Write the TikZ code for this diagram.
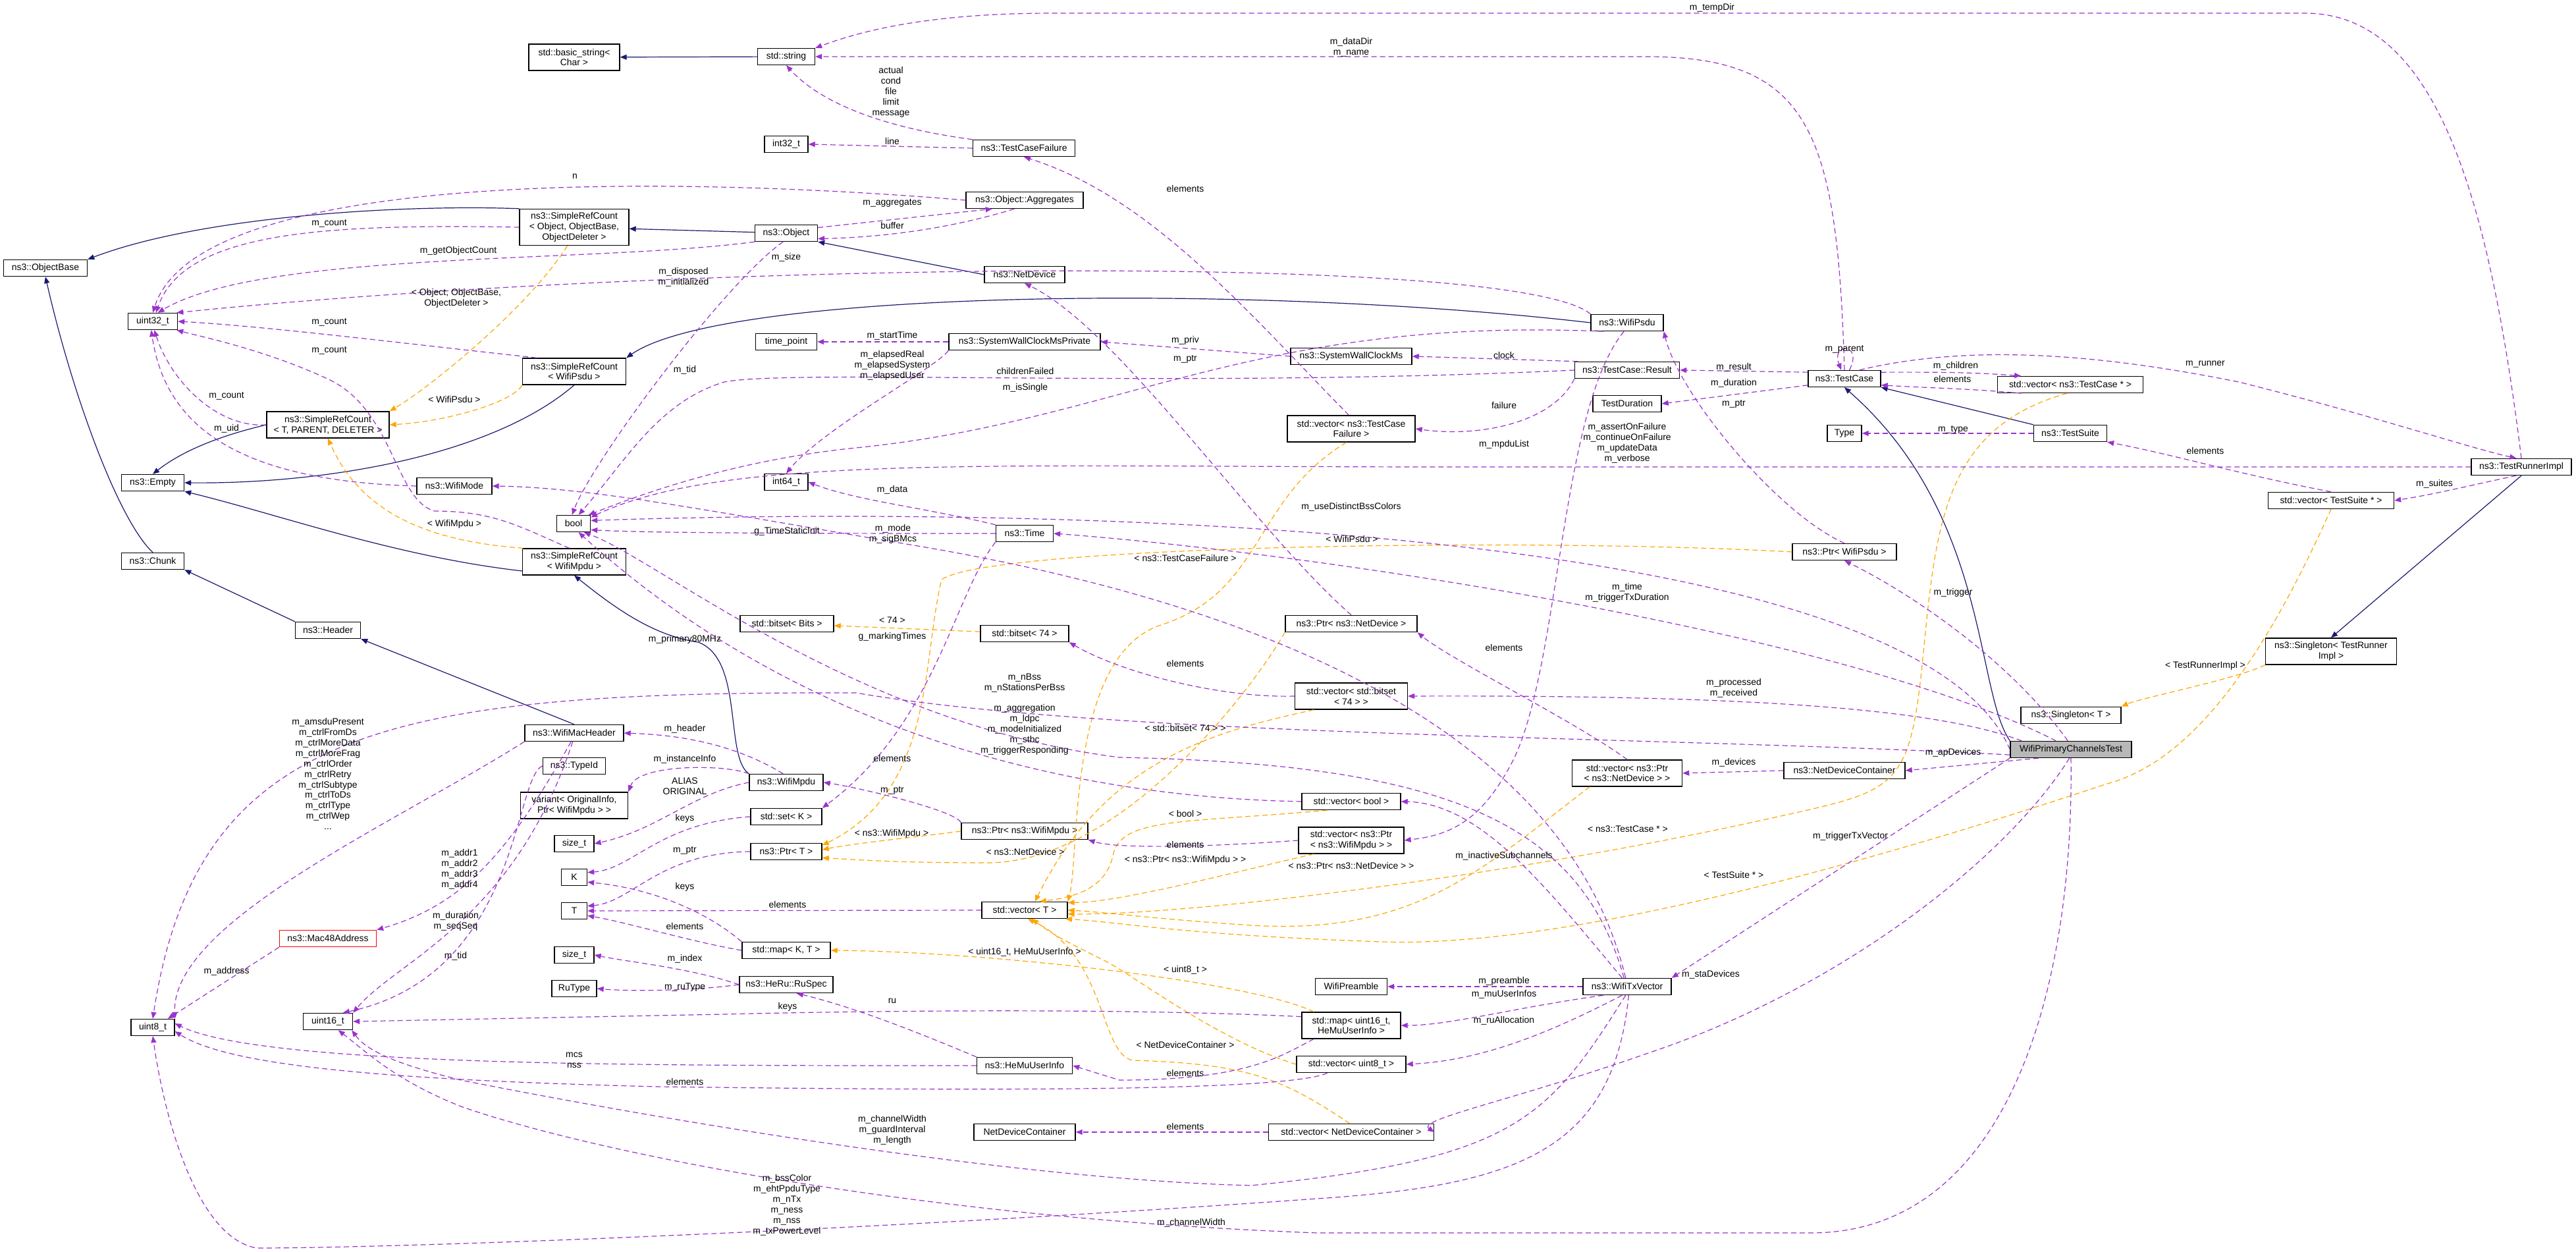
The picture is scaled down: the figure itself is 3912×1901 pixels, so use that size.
\documentclass[tikz,border=0pt]{standalone}
\usepackage{fontspec}
\setmainfont{Liberation Sans}
\usetikzlibrary{arrows.meta}
\definecolor{pu}{HTML}{9A32CD}
\definecolor{orr}{HTML}{FFA500}
\definecolor{nv}{HTML}{191970}
\tikzset{
 box/.style={draw=black,line width=0.7bp,fill=white,inner sep=1bp,minimum height=12.5bp,align=center,font=\fontsize{7}{8}\selectfont},
 lab/.style={inner sep=0,align=center,font=\fontsize{7}{8}\selectfont},
 tip/.style={-{Triangle[length=5bp,width=4bp]}},
 pe/.style={tip,draw=pu,line width=0.6bp,dash pattern=on 4bp off 2.5bp},
 oe/.style={tip,draw=orr,line width=0.6bp,dash pattern=on 4bp off 2.5bp},
 ne/.style={tip,draw=nv,line width=0.6bp},
}
\begin{document}
\begin{tikzpicture}[x=0.5bp,y=-0.5bp]
\useasboundingbox (0,0) rectangle (3912,1901);
% nodes
\node[box,minimum width=69bp,minimum height=20bp] (basic) at (872,87) {std::basic\_string\textless\\Char \textgreater};
\node[box,minimum width=43.5bp] (str) at (1194,86) {std::string};
\node[box,minimum width=33bp] (i32) at (1194,219) {int32\_t};
\node[box,minimum width=63.5bp] (objbase) at (69,407) {ns3::ObjectBase};
\node[box,minimum width=83bp,minimum height=27.5bp] (srcobj) at (872,345) {ns3::SimpleRefCount\\\textless{} Object, ObjectBase,\\ObjectDeleter \textgreater};
\node[box,minimum width=47.5bp] (obj) at (1194,354) {ns3::Object};
\node[box,minimum width=37.5bp] (u32) at (232,488) {uint32\_t};
\node[box,minimum width=46.5bp] (tp) at (1194,519) {time\_point};
\node[box,minimum width=78.5bp,minimum height=20bp] (srcpsdu) at (872,564) {ns3::SimpleRefCount\\\textless{} WifiPsdu \textgreater};
\node[box,minimum width=93bp,minimum height=20bp] (srctpd) at (498,645) {ns3::SimpleRefCount\\\textless{} T, PARENT, DELETER \textgreater};
\node[box,minimum width=47.5bp] (empty) at (232,733) {ns3::Empty};
\node[box,minimum width=57bp] (wmode) at (690,738) {ns3::WifiMode};
\node[box,minimum width=33bp] (i64) at (1194,732) {int64\_t};
\node[box,minimum width=25.5bp] (bool) at (871,795) {bool};
\node[box,minimum width=47.5bp] (chunk) at (232,852) {ns3::Chunk};
\node[box,minimum width=78.5bp,minimum height=20bp] (srcmpdu) at (872,853) {ns3::SimpleRefCount\\\textless{} WifiMpdu \textgreater};
\node[box,minimum width=71bp] (bitsetbits) at (1195,947) {std::bitset\textless{} Bits \textgreater};
\node[box,minimum width=49.5bp] (header) at (498,957) {ns3::Header};
\node[box,minimum width=75bp] (wmh) at (872,1113) {ns3::WifiMacHeader};
\node[box,minimum width=47.5bp] (typeid) at (872,1163) {ns3::TypeId};
\node[box,minimum width=81.5bp,minimum height=20bp] (variant) at (872,1223) {variant\textless{} OriginalInfo,\\Ptr\textless{} WifiMpdu \textgreater{} \textgreater};
\node[box,minimum width=30bp] (sizet) at (872,1281) {size\_t};
\node[box,minimum width=19.5bp] (K) at (872,1332) {K};
\node[box,minimum width=19.5bp] (T) at (872,1383) {T};
\node[box,minimum width=30bp] (sizet2) at (872,1450) {size\_t};
\node[box,minimum width=34bp] (rutype) at (872,1501) {RuType};
\node[box,minimum width=56bp] (wmpdu) at (1194,1188) {ns3::WifiMpdu};
\node[box,minimum width=54bp] (setk) at (1194,1240) {std::set\textless{} K \textgreater};
\node[box,minimum width=54bp] (ptrt) at (1194,1293) {ns3::Ptr\textless{} T \textgreater};
\node[box,minimum width=67bp] (mapkt) at (1194,1443) {std::map\textless{} K, T \textgreater};
\node[box,minimum width=71bp] (ruspec) at (1194,1495) {ns3::HeRu::RuSpec};
\node[box,draw=red,minimum width=73.5bp] (mac48) at (498,1425) {ns3::Mac48Address};
\node[box,minimum width=37.5bp] (u16) at (498,1551) {uint16\_t};
\node[box,minimum width=33bp] (u8) at (232,1560) {uint8\_t};
\node[box,minimum width=77.5bp] (tcf) at (1555,225) {ns3::TestCaseFailure};
\node[box,minimum width=89bp] (aggr) at (1556,304) {ns3::Object::Aggregates};
\node[box,minimum width=61bp] (netdev) at (1556,417) {ns3::NetDevice};
\node[box,minimum width=115bp] (swcmp) at (1556,519) {ns3::SystemWallClockMsPrivate};
\node[box,minimum width=92bp] (swcm) at (2052,541) {ns3::SystemWallClockMs};
\node[box,minimum width=55bp] (wpsdu) at (2471,490) {ns3::WifiPsdu};
\node[box,minimum width=79.5bp] (tcres) at (2471,562) {ns3::TestCase::Result};
\node[box,minimum width=52bp] (tdur) at (2471,613) {TestDuration};
\node[box,minimum width=97bp,minimum height=20bp] (vtcf) at (2052,651) {std::vector\textless{} ns3::TestCase\\Failure \textgreater};
\node[box,minimum width=43.5bp] (time) at (1556,810) {ns3::Time};
\node[box,minimum width=100bp] (ptrnd) at (2052,947) {ns3::Ptr\textless{} ns3::NetDevice \textgreater};
\node[box,minimum width=67bp] (bitset74) at (1556,962) {std::bitset\textless{} 74 \textgreater};
\node[box,minimum width=85.5bp,minimum height=20bp] (vbitset) at (2052,1057) {std::vector\textless{} std::bitset\\\textless{} 74 \textgreater{} \textgreater};
\node[box,minimum width=83.5bp,minimum height=20bp] (vptrnd) at (2471,1174) {std::vector\textless{} ns3::Ptr\\\textless{} ns3::NetDevice \textgreater{} \textgreater};
\node[box,minimum width=75bp] (vbool) at (2052,1217) {std::vector\textless{} bool \textgreater};
\node[box,minimum width=96bp] (ptrmpdu) at (1556,1262) {ns3::Ptr\textless{} ns3::WifiMpdu \textgreater};
\node[box,minimum width=80bp,minimum height=20bp] (vptrmpdu) at (2052,1276) {std::vector\textless{} ns3::Ptr\\\textless{} ns3::WifiMpdu \textgreater{} \textgreater};
\node[box,minimum width=65bp] (vt) at (1556,1382) {std::vector\textless{} T \textgreater};
\node[box,minimum width=54.5bp] (preamble) at (2052,1498) {WifiPreamble};
\node[box,minimum width=67bp] (txv) at (2471,1498) {ns3::WifiTxVector};
\node[box,minimum width=75bp,minimum height=20bp] (mapu16) at (2052,1557) {std::map\textless{} uint16\_t,\\HeMuUserInfo \textgreater};
\node[box,minimum width=83bp] (vu8) at (2052,1616) {std::vector\textless{} uint8\_t \textgreater};
\node[box,minimum width=72.5bp] (hemu) at (1556,1618) {ns3::HeMuUserInfo};
\node[box,minimum width=77bp] (ndc) at (1556,1719) {NetDeviceContainer};
\node[box,minimum width=125.5bp] (vndc) at (2052,1719) {std::vector\textless{} NetDeviceContainer \textgreater};
\node[box,minimum width=55bp] (tc) at (2801,575) {ns3::TestCase};
\node[box,minimum width=110.5bp] (vtc) at (3144,584) {std::vector\textless{} ns3::TestCase * \textgreater};
\node[box,minimum width=26bp] (type) at (2801,658) {Type};
\node[box,minimum width=55.5bp] (ts) at (3144,658) {ns3::TestSuite};
\node[box,minimum width=76bp] (tri) at (3829,709) {ns3::TestRunnerImpl};
\node[box,minimum width=95.5bp] (vts) at (3540,760) {std::vector\textless{} TestSuite * \textgreater};
\node[box,minimum width=79bp] (ptrpsdu) at (2801,838) {ns3::Ptr\textless{} WifiPsdu \textgreater};
\node[box,minimum width=99.5bp,minimum height=20bp] (stri) at (3540,989) {ns3::Singleton\textless{} TestRunner\\Impl \textgreater};
\node[box,minimum width=76bp] (st) at (3145,1086) {ns3::Singleton\textless{} T \textgreater};
\node[box,fill=black!28,minimum width=92bp] (wpct) at (3145,1138) {WifiPrimaryChannelsTest};
\node[box,minimum width=92bp] (ndc2) at (2801,1170) {ns3::NetDeviceContainer};
% navy
\draw[ne] (str) -- (basic);
\draw[ne] (srcobj.north west) .. controls (600,310) and (300,330) .. (objbase.north east);
\draw[ne] (obj) -- (srcobj);
\draw[ne] (netdev.west) -- (obj.south east);
\draw[ne] (wpsdu.west) .. controls (1900,430) and (1100,440) .. (srcpsdu.north east);
\draw[ne] (srctpd.west) .. controls (320,665) and (270,690) .. (empty.north);
\draw[ne] (srcpsdu.south) .. controls (750,690) and (500,735) .. (empty.east);
\draw[ne] (srcmpdu.190) .. controls (600,845) and (420,780) .. (empty.south east);
\draw[ne] (chunk.north) .. controls (180,790) and (110,600) .. (objbase.south);
\draw[ne] (header.north west) -- (chunk.south east);
\draw[ne] (wmh.north) -- (header.south east);
\draw[ne] (wmpdu.north west) .. controls (1100,1150) and (1130,1000) .. (1060,975) .. controls (990,965) and (930,920) .. (srcmpdu.south);
\draw[ne] (ts.north west) -- (tc.south east);
\draw[ne] (wpct.north west) .. controls (3000,1050) and (3020,780) .. (tc.south);
\draw[ne] (tri.south) -- (stri.north);
% orange
\draw[oe] (srcobj.250) .. controls (800,470) and (650,590) .. (srctpd.north east);
\draw[oe] (srcpsdu.south west) .. controls (780,610) and (680,640) .. (srctpd.east);
\draw[oe] (srcmpdu.165) .. controls (620,820) and (540,760) .. (srctpd.south);
\draw[oe] (bitset74) -- (bitsetbits);
\draw[oe] (vtcf.250) .. controls (1900,760) and (1920,900) .. (1760,950) .. controls (1620,1000) and (1640,1300) .. (vt.north east);
\draw[oe] (ptrpsdu.west) .. controls (2300,815) and (1500,830) .. (1430,880) .. controls (1400,1000) and (1420,1200) .. (ptrt.10);
\draw[oe] (vbitset.200) .. controls (1850,1110) and (1680,1150) .. (vt.40);
\draw[oe] (ptrnd.south west) .. controls (1900,1050) and (1700,1310) .. (1500,1310) .. controls (1350,1310) and (1300,1305) .. (ptrt.-10);
\draw[oe] (ptrmpdu.west) .. controls (1400,1270) and (1300,1280) .. (ptrt.3);
\draw[oe] (vbool.200) .. controls (1800,1250) and (1700,1240) .. (1690,1300) .. controls (1680,1340) and (1650,1360) .. (vt.30);
\draw[oe] (vptrmpdu.200) .. controls (1850,1330) and (1700,1370) .. (vt.10);
\draw[oe] (vptrnd.200) .. controls (2250,1320) and (2150,1420) .. (1900,1405) .. controls (1750,1395) and (1680,1385) .. (vt.east);
\draw[oe] (vtc.250) .. controls (2950,650) and (2940,800) .. (2920,1000) .. controls (2900,1200) and (2880,1200) .. (2700,1240) .. controls (2300,1330) and (1800,1390) .. (vt.-5);
\draw[oe] (vts.south) .. controls (3460,950) and (3350,1150) .. (3200,1190) .. controls (2900,1290) and (2400,1440) .. (2100,1430) .. controls (1800,1420) and (1700,1400) .. (vt.-12);
\draw[oe] (mapu16.160) .. controls (1900,1490) and (1500,1445) .. (mapkt.east);
\draw[oe] (vu8.west) .. controls (1850,1580) and (1720,1480) .. (1680,1460) .. controls (1620,1430) and (1600,1420) .. (vt.-50);
\draw[oe] (vndc.100) .. controls (1950,1640) and (1900,1615) .. (1720,1610) .. controls (1670,1600) and (1680,1450) .. (vt.-70);
\draw[oe] (stri.south west) .. controls (3400,1030) and (3250,1060) .. (st.north east);
% purple
\draw[pe] (tcf.north west) .. controls (1350,195) and (1250,160) .. (str.south);
\draw[pe] (tcf.west) -- (i32.east);
\draw[pe] (tc.north) .. controls (2790,200) and (2750,86) .. (2500,86) -- (str.east);
\draw[pe] (tri.north) .. controls (3780,300) and (3700,20) .. (3500,20) -- (1600,20) .. controls (1400,20) and (1300,50) .. (str.north east);
\draw[pe] (aggr.west) .. controls (1000,265) and (300,260) .. (u32.north);
\draw[pe] (obj.10) -- (aggr.195);
\draw[pe] (aggr.220) .. controls (1450,345) and (1350,360) .. (obj.-10);
\draw[pe] (srcobj.west) .. controls (500,340) and (280,350) .. (u32.70);
\draw[pe] (obj.south west) .. controls (900,400) and (400,380) .. (u32.60);
\draw[pe] (wpsdu.north west) .. controls (2300,380) and (1000,400) .. (u32.20);
\draw[pe] (obj.250) .. controls (1100,430) and (900,700) .. (bool.100);
\draw[pe] (srcpsdu.160) .. controls (600,520) and (400,495) .. (u32.east);
\draw[pe] (srcmpdu.110) .. controls (790,800) and (750,776) .. (660,776) .. controls (600,760) and (597,620) .. (497,575) .. controls (400,530) and (300,510) .. (u32.-20);
\draw[pe] (srctpd.west) .. controls (330,650) and (260,580) .. (u32.-80);
\draw[pe] (wmode.west) .. controls (350,730) and (250,640) .. (u32.-100);
\draw[pe] (tcres.west) .. controls (1800,590) and (1200,560) .. (1100,580) .. controls (1000,610) and (950,700) .. (bool.60);
\draw[pe] (wpsdu.200) .. controls (1900,480) and (1700,640) .. (1300,680) .. controls (1100,700) and (950,760) .. (bool.30);
\draw[pe] (tri.west) -- (2200,709) .. controls (1500,709) and (1100,690) .. (bool.20);
\draw[pe] (swcmp.west) -- (tp.east);
\draw[pe] (swcmp.south west) .. controls (1420,560) and (1250,650) .. (i64.north);
\draw[pe] (swcm.west) -- (swcmp.east);
\draw[pe] (tcres.170) -- (swcm.east);
\draw[pe] (tcres.south west) .. controls (2360,640) and (2250,665) .. (vtcf.east);
\draw[pe] (vtcf.100) .. controls (1900,480) and (1750,300) .. (tcf.south);
\draw[pe] (tc.170) -- (tcres.east);
\draw[pe] (tc.190) -- (tdur.east);
\draw[pe] (tc.60) .. controls (2830,520) and (2780,520) .. (tc.110);
\draw[pe] (tc.10) .. controls (2950,565) and (2990,565) .. (vtc.170);
\draw[pe] (vtc.190) .. controls (2990,590) and (2950,590) .. (tc.-10);
\draw[pe] (tc.30) .. controls (3000,520) and (3200,540) .. (3400,580) .. controls (3600,630) and (3750,680) .. (tri.120);
\draw[pe] (ts.west) -- (type.east);
\draw[pe] (vts.north) .. controls (3400,720) and (3300,690) .. (ts.south east);
\draw[pe] (tri.240) .. controls (3760,735) and (3700,750) .. (vts.east);
\draw[pe] (ptrpsdu.north) .. controls (2700,780) and (2550,600) .. (wpsdu.south east);
\draw[pe] (time.west) .. controls (1300,810) and (1000,810) .. (bool.-20);
\draw[pe] (time.north west) .. controls (1400,770) and (1300,760) .. (i64.east);
\draw[pe] (wpct.west) .. controls (2900,780) and (1500,770) .. (bool.10);
\draw[pe] (wpct.150) .. controls (2800,960) and (2000,840) .. (time.east);
\draw[pe] (wpct.110) .. controls (3050,1000) and (2900,900) .. (ptrpsdu.south);
\draw[pe] (wpct.170) .. controls (2950,1080) and (2700,1055) .. (vbitset.east);
\draw[pe] (wpct.185) .. controls (2500,1117) and (1700,1120) .. (1300,1052) .. controls (600,1050) and (300,1100) .. (u8.north);
\draw[pe] (txv.110) .. controls (2400,1250) and (2200,1160) .. (1700,1150) .. controls (1300,1100) and (1000,850) .. (bool.-40);
\draw[pe] (vbool.west) .. controls (1600,1210) and (1200,1100) .. (bool.-60);
\draw[pe] (ptrmpdu.north west) .. controls (1450,1230) and (1300,1195) .. (wmpdu.east);
\draw[pe] (vptrmpdu.west) .. controls (1850,1285) and (1700,1290) .. (ptrmpdu.south east);
\draw[pe] (vptrnd.north) .. controls (2400,1100) and (2200,1000) .. (ptrnd.south east);
\draw[pe] (ndc2.west) -- (vptrnd.east);
\draw[pe] (wpct.195) -- (ndc2.east);
\draw[pe] (wpct.south west) .. controls (2900,1250) and (2700,1380) .. (txv.north east);
\draw[pe] (wpct.260) .. controls (3050,1300) and (2800,1500) .. (2500,1600) .. controls (2300,1670) and (2150,1700) .. (vndc.east);
\draw[pe] (wpct.south) .. controls (3150,1500) and (3050,1872) .. (2750,1872) -- (2000,1872) .. controls (1400,1850) and (900,1750) .. (700,1680) .. controls (600,1640) and (560,1600) .. (u16.-40);
\draw[pe] (txv.-80) .. controls (2450,1750) and (2300,1800) .. (2000,1820) .. controls (1300,1870) and (600,1895) .. (390,1895) .. controls (300,1880) and (250,1700) .. (u8.south);
\draw[pe] (txv.-100) .. controls (2350,1700) and (2300,1760) .. (1900,1800) .. controls (1500,1790) and (900,1680) .. (700,1640) .. controls (620,1620) and (560,1600) .. (u16.-20);
\draw[pe] (mapu16.200) .. controls (1950,1600) and (1900,1640) .. (1700,1640) -- (hemu.east);
\draw[pe] (vu8.200) .. controls (1950,1660) and (1400,1655) .. (1000,1650) .. controls (600,1640) and (350,1620) .. (u8.-10);
\draw[pe] (hemu.west) .. controls (1000,1618) and (400,1620) .. (u8.10);
\draw[pe] (hemu.north west) .. controls (1400,1570) and (1300,1530) .. (ruspec.-40);
\draw[pe] (mapu16.170) .. controls (1700,1530) and (1300,1535) .. (1100,1540) -- (u16.east);
\draw[pe] (ruspec.west) .. controls (1050,1470) and (950,1460) .. (sizet2.east);
\draw[pe] (ruspec.west) .. controls (1050,1505) and (950,1505) .. (rutype.east);
\draw[pe] (mapkt.west) .. controls (1050,1430) and (950,1400) .. (T.-20);
\draw[pe] (mapkt.north west) .. controls (1080,1390) and (1000,1350) .. (K.-20);
\draw[pe] (vt.west) -- (T.east);
\draw[pe] (ptrt.west) .. controls (1000,1295) and (960,1370) .. (T.20);
\draw[pe] (setk.west) .. controls (1000,1250) and (960,1320) .. (K.20);
\draw[pe] (wmpdu.west) .. controls (1050,1205) and (1000,1260) .. (sizet.east);
\draw[pe] (wmpdu.north west) .. controls (1100,1160) and (970,1160) .. (variant.north east);
\draw[pe] (wmpdu.110) .. controls (1100,1120) and (1000,1115) .. (wmh.east);
\draw[pe] (wmh.250) .. controls (770,1300) and (700,1375) .. (mac48.north east);
\draw[pe] (wmh.south west) .. controls (600,1250) and (260,1400) .. (u8.north east);
\draw[pe] (wmh.260) .. controls (780,1400) and (600,1460) .. (u16.north east);
\draw[pe] (typeid.west) .. controls (780,1180) and (790,1480) .. (u16.30);
\draw[pe] (mac48.south west) -- (u8.30);
\draw[pe] (time.south west) .. controls (1450,900) and (1420,1100) .. (setk.north east);
\draw[pe] (txv.120) .. controls (2350,1350) and (2250,1220) .. (vbool.east);
\draw[pe] (txv.west) -- (preamble.east);
\draw[pe] (txv.200) .. controls (2300,1530) and (2200,1557) .. (mapu16.east);
\draw[pe] (txv.240) .. controls (2350,1570) and (2250,1610) .. (vu8.east);
\draw[pe] (vndc.west) -- (ndc.east);
\draw[pe] (wpsdu.250) .. controls (2370,620) and (2370,1000) .. (2300,1150) .. controls (2250,1250) and (2200,1268) .. (vptrmpdu.east);
\draw[pe] (txv.100) .. controls (2400,1200) and (2100,950) .. (1400,830) .. controls (1100,780) and (900,740) .. (wmode.east);
\draw[pe] (vbitset.west) .. controls (1850,1060) and (1700,1020) .. (bitset74.south east);
\draw[pe] (ptrnd.north) .. controls (1900,800) and (1700,500) .. (netdev.south);
% labels
\node[lab] (l1) at (1353,140) {actual\\cond\\file\\limit\\message};
\node[lab] (l2) at (1355,215) {line};
\node[lab] (l3) at (2052,72) {m\_dataDir\\m\_name};
\node[lab] (l4) at (2600,12) {m\_tempDir};
\node[lab] (l5) at (873,268) {n};
\node[lab] (l6) at (1355,308) {m\_aggregates};
\node[lab] (l7) at (1355,343) {buffer};
\node[lab] (l8) at (500,339) {m\_count};
\node[lab] (l9) at (696,381) {m\_getObjectCount};
\node[lab] (l10) at (1194,391) {m\_size};
\node[lab] (l11) at (1038,421) {m\_disposed\\m\_initialized};
\node[lab] (l12) at (693,453) {\textless{} Object, ObjectBase,\\ObjectDeleter \textgreater};
\node[lab] (l13) at (500,489) {m\_count};
\node[lab] (l14) at (500,532) {m\_count};
\node[lab] (l15) at (344,601) {m\_count};
\node[lab] (l16) at (690,607) {\textless{} WifiPsdu \textgreater};
\node[lab] (l17) at (344,651) {m\_uid};
\node[lab] (l18) at (690,796) {\textless{} WifiMpdu \textgreater};
\node[lab] (l19) at (1040,562) {m\_tid};
\node[lab] (l20) at (1557,564) {childrenFailed};
\node[lab] (l21) at (1557,589) {m\_isSingle};
\node[lab] (l22) at (1800,545) {m\_ptr};
\node[lab] (l23) at (1800,517) {m\_priv};
\node[lab] (l24) at (1355,510) {m\_startTime};
\node[lab] (l25) at (1355,555) {m\_elapsedReal\\m\_elapsedSystem\\m\_elapsedUser};
\node[lab] (l26) at (2284,540) {clock};
\node[lab] (l27) at (2284,616) {failure};
\node[lab] (l28) at (1800,287) {elements};
\node[lab] (l29) at (2284,675) {m\_mpduList};
\node[lab] (l30) at (2471,673) {m\_assertOnFailure\\m\_continueOnFailure\\m\_updateData\\m\_verbose};
\node[lab] (l31) at (2633,558) {m\_result};
\node[lab] (l32) at (2633,582) {m\_duration};
\node[lab] (l33) at (2633,613) {m\_ptr};
\node[lab] (l34) at (2801,530) {m\_parent};
\node[lab] (l35) at (2970,556) {m\_children};
\node[lab] (l36) at (2965,576) {elements};
\node[lab] (l37) at (3349,553) {m\_runner};
\node[lab] (l38) at (2966,652) {m\_type};
\node[lab] (l39) at (3349,685) {elements};
\node[lab] (l40) at (3697,735) {m\_suites};
\node[lab] (l41) at (1355,744) {m\_data};
\node[lab] (l42) at (2052,770) {m\_useDistinctBssColors};
\node[lab] (l43) at (1195,807) {g\_TimeStaticInit};
\node[lab] (l44) at (1356,811) {m\_mode\\m\_sigBMcs};
\node[lab] (l45) at (2053,819) {\textless{} WifiPsdu \textgreater};
\node[lab] (l46) at (1800,848) {\textless{} ns3::TestCaseFailure \textgreater};
\node[lab] (l47) at (2471,900) {m\_time\\m\_triggerTxDuration};
\node[lab] (l48) at (2966,900) {m\_trigger};
\node[lab] (l49) at (1355,942) {\textless{} 74 \textgreater};
\node[lab] (l50) at (1355,967) {g\_markingTimes};
\node[lab] (l51) at (1040,971) {m\_primary80MHz};
\node[lab] (l52) at (2284,984) {elements};
\node[lab] (l53) at (1800,1008) {elements};
\node[lab] (l54) at (1556,1037) {m\_nBss\\m\_nStationsPerBss};
\node[lab] (l55) at (2633,1045) {m\_processed\\m\_received};
\node[lab] (l56) at (1800,1106) {\textless{} std::bitset\textless{} 74 \textgreater{} \textgreater};
\node[lab] (l57) at (1556,1108) {m\_aggregation\\m\_ldpc\\m\_modeInitialized\\m\_stbc\\m\_triggerResponding};
\node[lab] (l58) at (1355,1152) {elements};
\node[lab] (l59) at (2966,1143) {m\_apDevices};
\node[lab] (l60) at (2633,1158) {m\_devices};
\node[lab] (l61) at (1355,1200) {m\_ptr};
\node[lab] (l62) at (1800,1236) {\textless{} bool \textgreater};
\node[lab] (l63) at (1354,1266) {\textless{} ns3::WifiMpdu \textgreater};
\node[lab] (l64) at (1800,1283) {elements};
\node[lab] (l65) at (1557,1294) {\textless{} ns3::NetDevice \textgreater};
\node[lab] (l66) at (1800,1306) {\textless{} ns3::Ptr\textless{} ns3::WifiMpdu \textgreater{} \textgreater};
\node[lab] (l67) at (2052,1315) {\textless{} ns3::Ptr\textless{} ns3::NetDevice \textgreater{} \textgreater};
\node[lab] (l68) at (2284,1300) {m\_inactiveSubchannels};
\node[lab] (l69) at (2472,1259) {\textless{} ns3::TestCase * \textgreater};
\node[lab] (l70) at (2810,1270) {m\_triggerTxVector};
\node[lab] (l71) at (2633,1329) {\textless{} TestSuite * \textgreater};
\node[lab] (l72) at (3349,1011) {\textless{} TestRunnerImpl \textgreater};
\node[lab] (l73) at (1556,1446) {\textless{} uint16\_t, HeMuUserInfo \textgreater};
\node[lab] (l74) at (1800,1473) {\textless{} uint8\_t \textgreater};
\node[lab] (l75) at (2284,1490) {m\_preamble};
\node[lab] (l76) at (2284,1510) {m\_muUserInfos};
\node[lab] (l77) at (2284,1550) {m\_ruAllocation};
\node[lab] (l78) at (2598,1480) {m\_staDevices};
\node[lab] (l79) at (1355,1520) {ru};
\node[lab] (l80) at (1196,1529) {keys};
\node[lab] (l81) at (1800,1587) {\textless{} NetDeviceContainer \textgreater};
\node[lab] (l82) at (1800,1630) {elements};
\node[lab] (l83) at (1040,1643) {elements};
\node[lab] (l84) at (872,1610) {mcs\\nss};
\node[lab] (l85) at (1800,1711) {elements};
\node[lab] (l86) at (1355,1716) {m\_channelWidth\\m\_guardInterval\\m\_length};
\node[lab] (l87) at (1809,1857) {m\_channelWidth};
\node[lab] (l88) at (1195,1830) {m\_bssColor\\m\_ehtPpduType\\m\_nTx\\m\_ness\\m\_nss\\m\_txPowerLevel};
\node[lab] (l89) at (1040,1456) {m\_index};
\node[lab] (l90) at (1040,1499) {m\_ruType};
\node[lab] (l91) at (1040,1407) {elements};
\node[lab] (l92) at (1040,1347) {keys};
\node[lab] (l93) at (1196,1374) {elements};
\node[lab] (l94) at (1040,1291) {m\_ptr};
\node[lab] (l95) at (1040,1243) {keys};
\node[lab] (l96) at (1040,1194) {ALIAS\\ORIGINAL};
\node[lab] (l97) at (1040,1153) {m\_instanceInfo};
\node[lab] (l98) at (1040,1107) {m\_header};
\node[lab] (l99) at (698,1320) {m\_addr1\\m\_addr2\\m\_addr3\\m\_addr4};
\node[lab] (l100) at (498,1175) {m\_amsduPresent\\m\_ctrlFromDs\\m\_ctrlMoreData\\m\_ctrlMoreFrag\\m\_ctrlOrder\\m\_ctrlRetry\\m\_ctrlSubtype\\m\_ctrlToDs\\m\_ctrlType\\m\_ctrlWep\\...};
\node[lab] (l101) at (692,1399) {m\_duration\\m\_seqSeq};
\node[lab] (l102) at (692,1452) {m\_tid};
\node[lab] (l103) at (344,1475) {m\_address};
\end{tikzpicture}
\end{document}
